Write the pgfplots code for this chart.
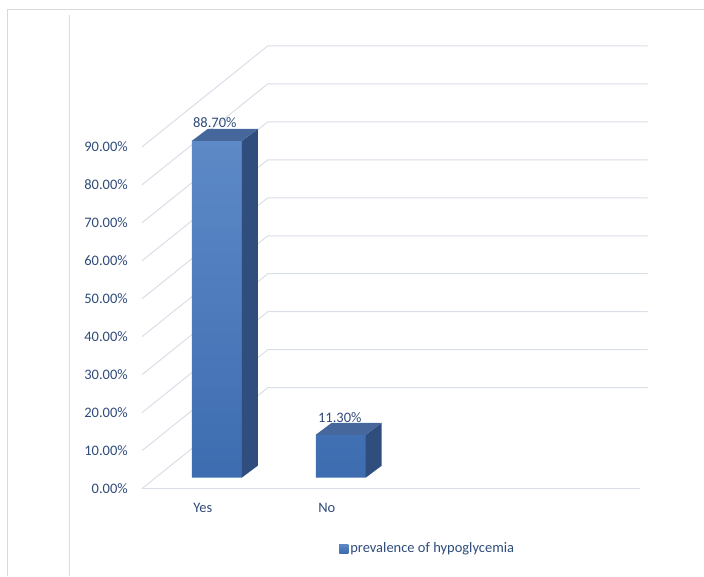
\documentclass[border=0pt]{standalone}
\usepackage{fontspec}
\setmainfont{Carlito}
\usepackage{pgfplots}
\pgfplotsset{compat=1.18}
\definecolor{txt}{RGB}{47,75,122}
\definecolor{gridC}{RGB}{217,222,232}
\definecolor{frontTop}{RGB}{93,137,199}
\definecolor{frontBot}{RGB}{61,108,176}
\definecolor{sideC}{RGB}{47,78,126}
\definecolor{topC}{RGB}{70,103,156}
\definecolor{frameC}{RGB}{217,217,217}
\definecolor{vline}{RGB}{214,222,236}
\tikzset{lab/.style={inner sep=0pt, text=txt, font=\fontsize{14.5}{17}\selectfont}}
\begin{document}
\begin{tikzpicture}
\begin{axis}[
  width=704pt, height=576pt, scale only axis,
  xmin=0, xmax=704, ymin=-25.789, ymax=125.789,
  axis line style={draw=none}, xtick=\empty, ytick=\empty,
  clip=false,
  legend style={at={(0.482,0.047)}, anchor=west, draw=none, fill=none,
    font=\fontsize{14.5}{17}\selectfont, text=txt, inner sep=0pt,
    legend cell align=left},
  legend image code/.code={\fill[fill=frontBot] (0pt,-4.5pt) rectangle (9pt,4.5pt);},
]
% frame of the picture
\addplot[frameC, line width=1pt, forget plot] coordinates {(8,-25.789) (8,123.4) (704,123.4)};
\addplot[vline, line width=1pt, forget plot] coordinates {(70,-25.789) (70,121.8)};
% back wall horizontal lines and left wall diagonals
\foreach \k in {0,...,9}{
  \edef\temp{\noexpand\addplot[color=gridC, line width=1pt, forget plot] coordinates {(142,\k*10-2.9) (268,\k*10+23.7) (648,\k*10+23.7)};}
  \temp
}
% front floor line
\addplot[color=gridC, line width=1.2pt, forget plot] coordinates {(142,-2.9) (640,-2.9)};
% bar front faces (data)
\addplot[ybar, bar width=50, draw=none, top color=frontTop, bottom color=frontBot]
  coordinates {(217,88.7) (341,11.3)};
\addlegendentry{prevalence of hypoglycemia}
% side faces
\addplot[fill=sideC, draw=none, forget plot] coordinates {(242,0) (258,3.16) (258,91.86) (242,88.7)} -- cycle;
\addplot[fill=sideC, draw=none, forget plot] coordinates {(366,0) (382,3.16) (382,14.46) (366,11.3)} -- cycle;
% top faces
\addplot[fill=topC, draw=none, forget plot] coordinates {(192,88.7) (208,91.86) (258,91.86) (242,88.7)} -- cycle;
\addplot[fill=topC, draw=none, forget plot] coordinates {(316,11.3) (332,14.46) (382,14.46) (366,11.3)} -- cycle;
% y tick labels on the front plane
\node[lab, anchor=east] at (axis cs:128,-2.9) {0.00\%};
\foreach \k in {1,...,9}{
  \edef\temp{\noexpand\node[lab, anchor=east] at (axis cs:128,\k*10-2.9) {\k0.00\noexpand\%};}
  \temp
}
% category labels
\node[lab] at (axis cs:203,-7.9) {Yes};
\node[lab] at (axis cs:327,-7.9) {No};
% data labels
\node[lab] at (axis cs:215,93.6) {88.70\%};
\node[lab] at (axis cs:340,15.9) {11.30\%};
\end{axis}
\end{tikzpicture}
\end{document}
